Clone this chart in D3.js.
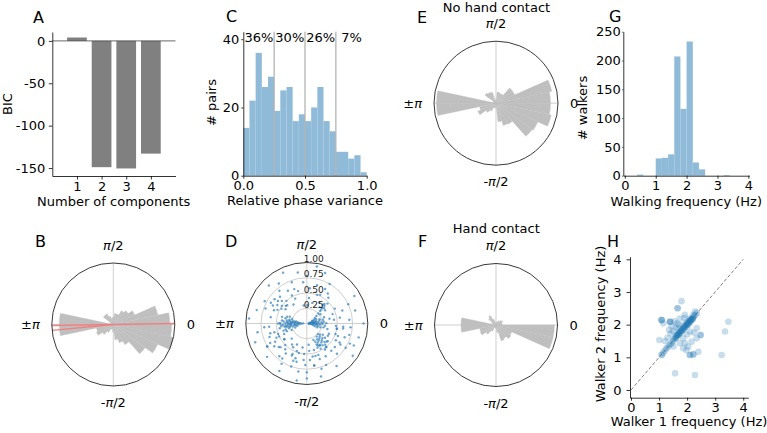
<!DOCTYPE html>
<html><head><meta charset="utf-8">
<script src="https://cdn.jsdelivr.net/npm/d3@7"></script>
<style>
body{margin:0;background:#fff;}
svg text{font-family:"DejaVu Sans",sans-serif;}
</style></head><body>
<svg id="c" width="767" height="433" xmlns="http://www.w3.org/2000/svg"></svg>
<script>
// ---------------- DATA ----------------
// A: BIC per number of mixture components
const bicComponents = [1, 2, 3, 4];
const bicValues = [4, -149, -150.5, -133];
const bicTicks = [0, -50, -100, -150];

// C: histogram of relative phase variance
const phaseVarEdges = [0,0.05,0.1,0.15,0.2,0.25,0.3,0.35,0.4,0.45,0.5,0.55,0.6,0.65,0.7,0.75,0.8,0.85,0.9,0.95,1.0];
const phaseVarCounts = [14,22,36,26,29,19,25,26,16,18,16,20,26,16,13,7,7,5,6,1];
const quartileEdges = [0.25, 0.5, 0.75];
const quartileLabelPos = [0, 0.25, 0.5, 0.75];
const quartileLabels = ["36%", "30%", "26%", " 7%"];

// Rose histograms: 30 bins of 12 degrees, starting at -180 deg
const roseEdgesDeg = [-180,-168,-156,-144,-132,-120,-108,-96,-84,-72,-60,-48,-36,-24,-12,0,12,24,36,48,60,72,84,96,108,120,132,144,156,168,180];
const roseAll     = [0.88,0.28,0.30,0.22,0.15,0.08,0.08,0.12,0.25,0.31,0.38,0.64,0.79,1.00,0.95,0.92,0.74,0.38,0.30,0.26,0.18,0.18,0.12,0.10,0.14,0.20,0.20,0.06,0.05,0.88];
const roseNoHand  = [0.96,0.27,0.32,0.20,0.15,0.08,0.08,0.05,0.30,0.38,0.39,0.72,0.74,0.91,0.88,0.88,0.92,0.33,0.33,0.17,0.17,0.18,0.05,0.05,0.19,0.20,0.22,0.05,0.04,0.96];
const roseHand    = [0.57,0.27,0.28,0.20,0.12,0.05,0.05,0.05,0.12,0.27,0.25,0.30,0.28,0.95,0.95,0.10,0.10,0.12,0.10,0.08,0.05,0.05,0.03,0.03,0.10,0.18,0.15,0.08,0.05,0.57];
// B: mixture component mean directions (deg)
const componentAnglesDeg = [0.9, 180.9, 185.5];

// D: relative phase (deg) and phase-locking radius for each pair
const phasePoints = [
[178,.06],[183,.09],[175,.11],[186,.13],[172,.15],[181,.16],[189,.18],[176,.19],[184,.21],[170,.22],[192,.23],[179,.24],[187,.26],[174,.27],[182,.28],[168,.29],[195,.3],[177,.31],[185,.32],[171,.33],[190,.34],[180,.35],[166,.36],[188,.37],[175,.38],[183,.39],[197,.4],[173,.41],[186,.42],[179,.44],[163,.25],[199,.2],[161,.34],[201,.35],[178,.14],[184,.27],[176,.33],[181,.3],[187,.2],[173,.24],[169,.18],[191,.28],[194,.16],[165,.42],[203,.27],[180,.47],[158,.3],[205,.41],[186,.35],[174,.2],[182,.43],[177,.26],[189,.31],[171,.29],[196,.36],
[3,.03],[-6,.05],[9,.06],[-2,.07],[14,.08],[-10,.09],[5,.1],[0,.11],[18,.1],[-14,.11],[22,.12],[-4,.13],[10,.14],[-18,.14],[2,.15],[15,.16],[-8,.16],[7,.18],[-12,.19],[25,.17],[0,.2],[12,.21],[-5,.22],[19,.22],[-16,.23],[4,.24],[8,.12],[-3,.17],[16,.05],[-9,.04],[27,.14],[-20,.18],[11,.09],[-1,.26],[6,.28],[-7,.3],[13,.27],[20,.3],[-13,.28],[1,.32],
[28,.1],[35,.16],[38,.2],[41,.25],[43,.3],[44,.33],[46,.36],[42,.38],[45,.41],[48,.43],[44,.47],[34,.27],[50,.4],[52,.34],[36,.37],
[-40,.28],[-45,.3],[-50,.32],[-43,.35],[-55,.34],[-48,.37],[-60,.36],[-52,.39],[-58,.41],[-46,.42],[-63,.4],[-54,.44],[-49,.46],[-61,.47],[-57,.31],[-65,.33],[-38,.38],[-42,.44],[-66,.43],[-51,.5],[-35,.32],[-30,.4],[-68,.29],[-53,.27],[-44,.25],
[140,.45],[145,.5],[150,.48],[138,.55],[148,.57],[142,.6],[155,.53],[135,.62],[152,.63],[146,.42],[132,.5],[158,.58],[143,.66],[137,.44],[150,.68],
[10,.55],[20,.62],[5,.7],[15,.82],[25,.75],[-5,.6],[-15,.72],[-25,.85],[0,.93],[8,.45],[-10,.5],[30,.9],[55,.6],[60,.75],[65,.52],[70,.88],[75,.65],[80,.95],[85,.58],[90,.78],[95,.68],[100,.85],[105,.55],[110,.72],[115,.92],[120,.62],[125,.8],[130,.7],[135,.88],[160,.72],[165,.85],[170,.6],[175,.95],[185,.7],[190,.82],[195,.62],[200,.9],[205,.55],[210,.75],[215,.65],[220,.85],[225,.5],[230,.7],[235,.6],[240,.9],[245,.55],[250,.75],[255,.65],[260,.95],[265,.5],[270,.8],[275,.6],[280,.7],[285,.9],[290,.55],[295,.75],[300,.62],[305,.85],[310,.5],[315,.7],[320,.6],[325,.92],[330,.55],[335,.78],[340,.66],[345,.88],[350,.5],[355,.72],
[60,.4],[75,.35],[100,.3],[115,.45],[125,.38],[200,.5],[215,.45],[225,.35],[235,.42],[250,.48],[260,.4],[275,.35],[285,.45],[295,.38],[305,.52],[320,.45],[335,.4],[345,.35],[355,.48],[70,.5],[85,.42],[110,.6],[210,.6],[245,.38],[280,.55],[300,.42],[330,.62],[340,.5],[20,.45],[50,.55],
[-75,.55],[-80,.7],[-85,.45],[-95,.6],[-100,.8],[-105,.5],[-110,.65],[-120,.45],[-125,.7],[-130,.55],[-140,.6],[-145,.45],[-150,.75],[-155,.5],[-160,.65],[-165,.55],[-170,.45],[-175,.62],
[12,.38],[28,.52],[62,.64],[88,.3],[118,.52],[152,.78],[208,.68],[222,.58],[238,.78],[252,.6],[268,.68],[288,.78],[312,.6],[328,.75],[352,.6],[-22,.55],[-32,.65],[-70,.62],[-90,.9],[-115,.58]
];
const radialTicks = [0.25, 0.5, 0.75, 1.0];

// G: histogram of walking frequency
const freqEdges = [0,0.2,0.4,0.6,0.8,1.0,1.2,1.4,1.6,1.8,2.0,2.2,2.4,2.6,2.8,3.0,3.2,3.4,3.6,3.8,4.0];
const freqCounts = [0,0,2,0,0,30,31,37,207,116,233,23,11,0,0,0,1,0,0,0];
const freqTicksX = [0,1,2,3,4];
const freqTicksY = [0,50,100,150,200,250];

// H: walker 1 vs walker 2 frequency (Hz)
const walkerPairs = [
[1.1,1.08],[1.15,1.14],[1.2,1.2],[1.25,1.26],[1.3,1.3],[1.35,1.36],[1.4,1.4],[1.45,1.44],[1.5,1.5],[1.52,1.55],[1.55,1.58],[1.6,1.6],[1.62,1.65],[1.65,1.68],[1.68,1.7],[1.7,1.72],[1.72,1.75],[1.75,1.78],[1.78,1.8],[1.8,1.82],[1.82,1.85],[1.85,1.86],[1.88,1.9],[1.9,1.92],[1.92,1.95],[1.95,1.96],[1.98,2.0],[2.0,2.02],[2.02,2.05],[2.05,2.06],[2.08,2.1],[2.1,2.12],[2.12,2.14],[2.15,2.16],[2.18,2.18],[2.2,2.2],[2.22,2.22],[2.25,2.26],[2.3,2.3],[2.35,2.36],[1.6,1.58],[1.7,1.7],[1.8,1.8],[1.9,1.9],[2.0,2.0],[2.1,2.1],[2.15,2.15],[1.75,1.74],[1.85,1.84],[1.95,1.94],[2.05,2.04],[1.65,1.66],[2.2,2.16],[2.12,2.08],
[1.09,2.14],[1.09,2.14],[1.09,2.14],[1.39,2.09],[1.39,2.09],[1.39,2.09],[1.66,2.5],[1.66,2.5],[1.8,2.72],[3.47,2.09],[3.35,1.79],[3.23,1.07],[1.57,0.51],[2.28,0.46],
[2.1,1.07],[2.1,1.07],[2.22,1.09],[2.22,1.09],[2.48,1.68],[2.48,1.68],[2.4,1.17],[1.01,1.53],[1.21,1.5],[1.09,1.07],[1.36,1.84],[1.41,1.73],[1.15,2.04],[1.63,2.04],[1.74,2.19],[1.92,2.3],[1.98,2.09],[2.22,2.3],[2.28,2.4],[2.34,1.89],[2.1,1.79],[1.86,1.58],[1.74,1.43],[1.92,1.43],[2.04,1.33],[2.16,1.48],[1.98,1.22],[1.86,1.28],[1.51,1.33],[1.63,1.68],[1.69,1.89],[1.84,1.99],[2.04,1.99],[2.1,2.19],[2.34,1.58],[1.55,2.1],[1.45,1.95],[1.7,2.0],[1.9,2.2],[2.0,1.7],[2.25,1.75],[1.5,1.8],[1.3,1.6],[1.6,1.9]
];
const walkerTicks = [0,1,2,3,4];

// ---------------- DRAWING ----------------
const FONT = "DejaVu Sans";
const svg = d3.select("#c");
const blueHist = "#8fbbd9";

function txt(g, x, y, t, o = {}) {
  const e = g.append("text").attr("x", x).attr("y", y)
    .attr("font-size", o.size || 13).attr("fill", "#000")
    .attr("text-anchor", o.anchor || "start").text(t);
  if (o.rot) e.attr("transform", `rotate(-90,${x},${y})`);
  return e;
}
function styleAxis(sel) {
  sel.attr("font-family", FONT).attr("font-size", 13);
  sel.selectAll("path.domain").attr("stroke", "#000").attr("stroke-width", 0.8);
  sel.selectAll(".tick line").attr("stroke", "#000").attr("stroke-width", 0.8);
  sel.selectAll(".tick text").attr("fill", "#000");
}
const plain = d => String(d);

// ---- Panel A ----
{
  const g = svg.append("g");
  const x = d3.scaleLinear().domain([0, 5]).range([52.3, 175.5]);
  const y = d3.scaleLinear().domain([-159.4, 10.5]).range([176, 32]);
  g.selectAll("rect").data(bicComponents).join("rect")
    .attr("x", (d) => x(d - 0.4)).attr("width", (d) => x(d + 0.4) - x(d - 0.4))
    .attr("y", (d, i) => y(Math.max(0, bicValues[i])))
    .attr("height", (d, i) => Math.abs(y(bicValues[i]) - y(0)))
    .attr("fill", "#808080");
  g.append("line").attr("x1", x(0)).attr("x2", x(5)).attr("y1", y(0)).attr("y2", y(0))
    .attr("stroke", "#444").attr("stroke-width", 0.8);
  styleAxis(g.append("g").attr("transform", "translate(52.3,0)")
    .call(d3.axisLeft(y).tickValues(bicTicks).tickFormat(plain).tickSize(3.5).tickPadding(3.5).tickSizeOuter(0)));
  styleAxis(g.append("g").attr("transform", "translate(0,176)")
    .call(d3.axisBottom(x).tickValues(bicComponents).tickFormat(plain).tickSize(3.5).tickPadding(2.5).tickSizeOuter(0)));
  txt(g, 12, 104, "BIC", { anchor: "middle", rot: true });
  txt(g, 113.7, 206, "Number of components", { anchor: "middle" });
  txt(g, 33, 22.7, "A", { size: 16 });
}

// ---- Panel C ----
{
  const g = svg.append("g");
  const x = d3.scaleLinear().domain([0, 1]).range([243.3, 366.7]);
  const y = d3.scaleLinear().domain([0, 42.2]).range([175.7, 31.7]);
  g.selectAll("rect").data(phaseVarCounts).join("rect")
    .attr("x", (d, i) => x(phaseVarEdges[i]))
    .attr("width", (d, i) => x(phaseVarEdges[i + 1]) - x(phaseVarEdges[i]))
    .attr("y", (d) => y(d)).attr("height", (d) => y(0) - y(d))
    .attr("fill", blueHist);
  g.selectAll("line.q").data(quartileEdges).join("line").attr("class", "q")
    .attr("x1", (d) => x(d)).attr("x2", (d) => x(d))
    .attr("y1", y(42.2)).attr("y2", y(0))
    .attr("stroke", "#b4b4b4").attr("stroke-width", 1.3);
  styleAxis(g.append("g").attr("transform", "translate(243.3,0)")
    .call(d3.axisLeft(y).tickValues([0, 20, 40]).tickFormat(plain).tickSize(2).tickPadding(2).tickSizeOuter(0)));
  styleAxis(g.append("g").attr("transform", "translate(0,175.7)")
    .call(d3.axisBottom(x).tickValues([0, 0.5, 1]).tickFormat(d3.format(".1f")).tickSize(3).tickPadding(2.5).tickSizeOuter(0)));
  g.selectAll("text.pct").data(quartileLabels).join("text").attr("class", "pct")
    .attr("x", (d, i) => x(quartileLabelPos[i]) + 1.2).attr("y", y(39.3))
    .attr("font-size", 13).attr("fill", "#000").style("white-space", "pre").text((d) => d);
  txt(g, 216, 102.5, "# pairs", { anchor: "middle", rot: true });
  txt(g, 305, 205, "Relative phase variance", { anchor: "middle" });
  txt(g, 226, 22.3, "C", { size: 16 });
}

// ---- Polar helper ----
function polarFrame(g, cx, cy, R) {
  g.append("line").attr("x1", cx - R).attr("x2", cx + R).attr("y1", cy).attr("y2", cy)
    .attr("stroke", "#cfcfcf").attr("stroke-width", 1);
  g.append("line").attr("x1", cx).attr("x2", cx).attr("y1", cy - R).attr("y2", cy + R)
    .attr("stroke", "#cfcfcf").attr("stroke-width", 1);
}
function polarOuter(g, cx, cy, R) {
  g.append("circle").attr("cx", cx).attr("cy", cy).attr("r", R)
    .attr("fill", "none").attr("stroke", "#222").attr("stroke-width", 0.9);
}
function polarLabels(g, cx, cy, R) {
  const t = g.append("text").attr("x", cx).attr("y", cy - R - 13.5).attr("text-anchor", "middle").attr("font-size", 13);
  t.append("tspan").attr("font-style", "italic").text("π"); t.append("tspan").text("/2");
  const b = g.append("text").attr("x", cx).attr("y", cy + R + 21).attr("text-anchor", "middle").attr("font-size", 13);
  b.append("tspan").text("-"); b.append("tspan").attr("font-style", "italic").text("π"); b.append("tspan").text("/2");
  const l = g.append("text").attr("x", cx - R - 12).attr("y", cy + 4.5).attr("text-anchor", "end").attr("font-size", 13);
  l.append("tspan").text("±"); l.append("tspan").attr("font-style", "italic").text("π");
  g.append("text").attr("x", cx + R + 12).attr("y", cy + 4.5).attr("font-size", 13).text("0");
}
function rose(g, cx, cy, R, vals) {
  const r = d3.scaleLinear().domain([0, 1]).range([0, R]);
  const deg = Math.PI / 180;
  const arc = d3.arc().innerRadius(0);
  g.append("g").attr("transform", `translate(${cx},${cy})`)
    .selectAll("path").data(vals).join("path")
    .attr("d", (v, i) => arc({ outerRadius: r(v),
      startAngle: Math.PI / 2 - roseEdgesDeg[i + 1] * deg,
      endAngle: Math.PI / 2 - roseEdgesDeg[i] * deg }))
    .attr("fill", "#bfbfbf").attr("stroke", "#bfbfbf").attr("stroke-width", 0.3);
}

// ---- Panel B ----
{
  const g = svg.append("g");
  const cx = 113.3, cy = 324.5, R = 61.5;
  polarFrame(g, cx, cy, R);
  rose(g, cx, cy, R, roseAll);
  const r = d3.scaleLinear().domain([0, 1]).range([0, R]);
  g.selectAll("line.m").data(componentAnglesDeg).join("line").attr("class", "m")
    .attr("x1", cx).attr("y1", cy)
    .attr("x2", (d) => cx + r(1) * Math.cos(d * Math.PI / 180))
    .attr("y2", (d) => cy - r(1) * Math.sin(d * Math.PI / 180))
    .attr("stroke", "#f08080").attr("stroke-width", 1.4);
  polarOuter(g, cx, cy, R);
  polarLabels(g, cx, cy, R);
  txt(g, 35, 246.5, "B", { size: 16 });
}

// ---- Panel D ----
{
  const g = svg.append("g");
  const cx = 306.8, cy = 323.5, R = 61;
  const r = d3.scaleLinear().domain([0, 1]).range([0, R]);
  polarFrame(g, cx, cy, R);
  g.selectAll("circle.grid").data(radialTicks.slice(0, 3)).join("circle").attr("class", "grid")
    .attr("cx", cx).attr("cy", cy).attr("r", (d) => r(d))
    .attr("fill", "none").attr("stroke", "#cfcfcf").attr("stroke-width", 1);
  g.selectAll("circle.pt").data(phasePoints).join("circle").attr("class", "pt")
    .attr("cx", (d) => cx + r(d[1]) * Math.cos(d[0] * Math.PI / 180))
    .attr("cy", (d) => cy - r(d[1]) * Math.sin(d[0] * Math.PI / 180))
    .attr("r", 1.2).attr("fill", "#2f7fba").attr("fill-opacity", 0.7);
  polarOuter(g, cx, cy, R);
  g.selectAll("text.rl").data(radialTicks).join("text").attr("class", "rl")
    .attr("x", cx + 7).attr("y", (d) => cy - r(d) - 0.5)
    .attr("text-anchor", "middle").attr("font-size", 9).attr("fill", "#222")
    .text((d) => d3.format(".2f")(d));
  polarLabels(g, cx, cy, R);
  txt(g, 225, 246.5, "D", { size: 16 });
}

// ---- Panel E ----
{
  const g = svg.append("g");
  const cx = 496, cy = 103.2, R = 62;
  polarFrame(g, cx, cy, R);
  rose(g, cx, cy, R, roseNoHand);
  polarOuter(g, cx, cy, R);
  polarLabels(g, cx, cy, R);
  txt(g, 496.5, 11.7, "No hand contact", { anchor: "middle" });
  txt(g, 417, 23, "E", { size: 16 });
}

// ---- Panel F ----
{
  const g = svg.append("g");
  const cx = 496, cy = 325, R = 61.5;
  polarFrame(g, cx, cy, R);
  rose(g, cx, cy, R, roseHand);
  polarOuter(g, cx, cy, R);
  polarLabels(g, cx, cy, R);
  txt(g, 496.3, 233, "Hand contact", { anchor: "middle" });
  txt(g, 418, 246.5, "F", { size: 16 });
}

// ---- Panel G ----
{
  const g = svg.append("g");
  const x = d3.scaleLinear().domain([-0.05, 4.03]).range([623.3, 749.3]);
  const y = d3.scaleLinear().domain([0, 250]).range([175.7, 31.7]);
  g.selectAll("rect").data(freqCounts).join("rect")
    .attr("x", (d, i) => x(freqEdges[i]))
    .attr("width", (d, i) => x(freqEdges[i + 1]) - x(freqEdges[i]))
    .attr("y", (d) => y(d)).attr("height", (d) => y(0) - y(d))
    .attr("fill", blueHist);
  styleAxis(g.append("g").attr("transform", "translate(623.3,0)")
    .call(d3.axisLeft(y).tickValues(freqTicksY).tickFormat(plain).tickSize(1).tickPadding(1.5).tickSizeOuter(0)));
  styleAxis(g.append("g").attr("transform", "translate(0,175.7)")
    .call(d3.axisBottom(x).tickValues(freqTicksX).tickFormat(plain).tickSize(3).tickPadding(2.5).tickSizeOuter(0)));
  txt(g, 587, 108, "# walkers", { anchor: "middle", rot: true });
  txt(g, 686.3, 206, "Walking frequency (Hz)", { anchor: "middle" });
  txt(g, 609, 22, "G", { size: 16 });
}

// ---- Panel H ----
{
  const g = svg.append("g");
  const x = d3.scaleLinear().domain([-0.036, 4.18]).range([630, 748.3]);
  const y = d3.scaleLinear().domain([-0.236, 4.08]).range([397.7, 256.7]);
  g.append("line").attr("x1", x(0)).attr("y1", y(0)).attr("x2", x(4)).attr("y2", y(4))
    .attr("stroke", "#808080").attr("stroke-width", 1).attr("stroke-dasharray", "3.5,2");
  g.selectAll("circle").data(walkerPairs).join("circle")
    .attr("cx", (d) => x(d[0])).attr("cy", (d) => y(d[1])).attr("r", 3.3)
    .attr("fill", "#1f77b4").attr("fill-opacity", 0.25);
  styleAxis(g.append("g").attr("transform", "translate(630,0)")
    .call(d3.axisLeft(y).tickValues(walkerTicks).tickFormat(plain).tickSize(3.5).tickPadding(5).tickSizeOuter(0)));
  styleAxis(g.append("g").attr("transform", "translate(0,397.7)")
    .call(d3.axisBottom(x).tickValues(walkerTicks).tickFormat(plain).tickSize(3).tickPadding(2.5).tickSizeOuter(0)));
  txt(g, 604.5, 324, "Walker 2 frequency (Hz)", { anchor: "middle", rot: true });
  txt(g, 689, 426, "Walker 1 frequency (Hz)", { anchor: "middle" });
  txt(g, 607, 246.5, "H", { size: 16 });
}
</script>
</body></html>
